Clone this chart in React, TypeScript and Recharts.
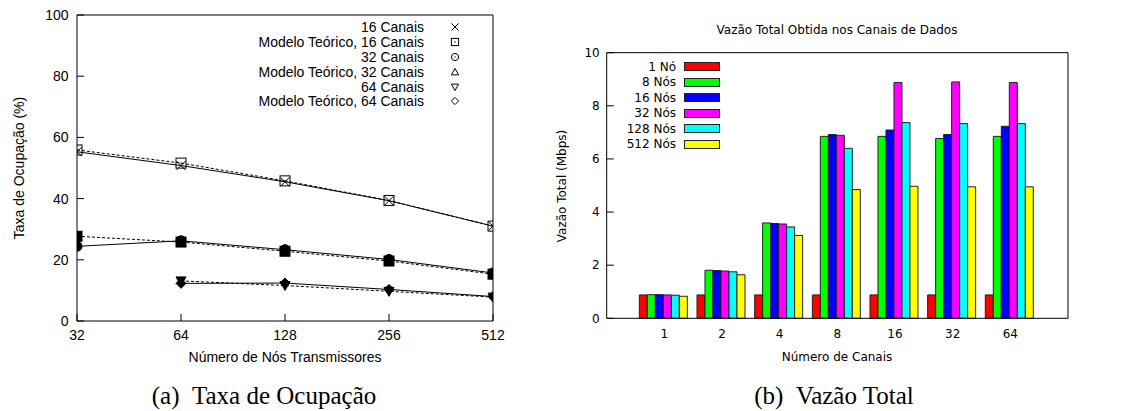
import React from 'react';
import { LineChart, Line, BarChart, Bar, XAxis, YAxis, Legend } from 'recharts';

// (a) occupation rate vs number of transmitting nodes
const nodes = [32, 64, 128, 256, 512];
const sim16 = [55.3, 50.8, 45.5, 39.3, 31.0];
const model16 = [55.9, 51.6, 45.8, 39.4, 31.0];
const sim32 = [24.4, 26.2, 23.3, 20.1, 15.7];
const model32 = [27.7, 25.8, 22.8, 19.6, 15.3];
const sim64 = [null, 12.3, 12.4, 10.3, 8.0];
const model64 = [null, 13.1, 11.6, 9.7, 7.8];
const occTicks = [0, 20, 40, 60, 80, 100];

// (b) total throughput vs number of channels
const channels = ['1', '2', '4', '8', '16', '32', '64'];
const thr1 = [0.88, 0.88, 0.88, 0.88, 0.88, 0.88, 0.88];
const thr8 = [0.89, 1.81, 3.59, 6.85, 6.85, 6.77, 6.85];
const thr16 = [0.89, 1.80, 3.57, 6.92, 7.09, 6.92, 7.23];
const thr32 = [0.88, 1.78, 3.55, 6.89, 8.88, 8.90, 8.88];
const thr128 = [0.87, 1.75, 3.44, 6.40, 7.37, 7.33, 7.33];
const thr512 = [0.83, 1.64, 3.12, 4.85, 4.97, 4.95, 4.95];
const thrTicks = [0, 2, 4, 6, 8, 10];

const sansL = '"Liberation Sans", Arial, Helvetica, sans-serif';
const sansR = '"DejaVu Sans", Verdana, sans-serif';
const serif = '"Liberation Serif", "Times New Roman", serif';

const occData = nodes.map((n, i) => ({
  n,
  s16: sim16[i],
  m16: model16[i],
  s32: sim32[i],
  m32: model32[i],
  s64: sim64[i],
  m64: model64[i],
}));

const thrData = channels.map((ch, i) => ({
  ch,
  b1: thr1[i],
  b8: thr8[i],
  b16: thr16[i],
  b32: thr32[i],
  b128: thr128[i],
  b512: thr512[i],
}));

type Shape = 'x' | 'square' | 'circle' | 'triUp' | 'triDown' | 'diamond';

const occSeries: { key: string; name: string; dash?: string; plot: Shape; filled: boolean; legend: Shape }[] = [
  { key: 's16', name: '16 Canais', plot: 'x', filled: false, legend: 'x' },
  { key: 'm16', name: 'Modelo Teórico, 16 Canais', dash: '3 2', plot: 'square', filled: false, legend: 'square' },
  { key: 's32', name: '32 Canais', plot: 'circle', filled: true, legend: 'circle' },
  { key: 'm32', name: 'Modelo Teórico, 32 Canais', dash: '3 2', plot: 'square', filled: true, legend: 'triUp' },
  { key: 's64', name: '64 Canais', plot: 'diamond', filled: true, legend: 'triDown' },
  { key: 'm64', name: 'Modelo Teórico, 64 Canais', dash: '3 2', plot: 'triDown', filled: true, legend: 'diamond' },
];

const thrSeries = [
  { key: 'b1', name: '1 Nó', color: '#ff0000' },
  { key: 'b8', name: '8 Nós', color: '#00ff00' },
  { key: 'b16', name: '16 Nós', color: '#0000ff' },
  { key: 'b32', name: '32 Nós', color: '#ff00ff' },
  { key: 'b128', name: '128 Nós', color: '#00ffff' },
  { key: 'b512', name: '512 Nós', color: '#ffff00' },
];

function shapeEl(shape: Shape, cx: number, cy: number, s: number, filled: boolean) {
  const fill = filled ? '#000' : 'none';
  const st = { stroke: '#000', strokeWidth: 1 };
  switch (shape) {
    case 'x':
      return (
        <g>
          <line x1={cx - s} y1={cy - s} x2={cx + s} y2={cy + s} {...st} />
          <line x1={cx - s} y1={cy + s} x2={cx + s} y2={cy - s} {...st} />
        </g>
      );
    case 'square':
      return (
        <g>
          <rect x={cx - s} y={cy - s} width={2 * s} height={2 * s} fill={fill} {...st} />
          {!filled && <circle cx={cx} cy={cy} r={0.7} fill="#000" />}
        </g>
      );
    case 'circle':
      return (
        <g>
          <circle cx={cx} cy={cy} r={s} fill={fill} {...st} />
          {!filled && <circle cx={cx} cy={cy} r={0.7} fill="#000" />}
        </g>
      );
    case 'triUp':
      return <polygon points={`${cx},${cy - s} ${cx + s},${cy + s * 0.8} ${cx - s},${cy + s * 0.8}`} fill={fill} {...st} />;
    case 'triDown':
      return <polygon points={`${cx},${cy + s} ${cx + s},${cy - s * 0.8} ${cx - s},${cy - s * 0.8}`} fill={fill} {...st} />;
    default:
      return <polygon points={`${cx},${cy - s} ${cx + s},${cy} ${cx},${cy + s} ${cx - s},${cy}`} fill={fill} {...st} />;
  }
}

const OccLegend = () => (
  <div style={{ fontFamily: sansL, fontSize: 14, color: '#000' }}>
    {occSeries.map((s) => (
      <div key={s.key} style={{ display: 'flex', alignItems: 'center', height: 14.8 }}>
        <span style={{ width: 300, textAlign: 'right', whiteSpace: 'nowrap' }}>{s.name}</span>
        <svg width={10} height={10} style={{ marginLeft: 26 }}>
          {shapeEl(s.legend, 5, 5, 3.6, false)}
        </svg>
      </div>
    ))}
  </div>
);

const ThrLegend = () => (
  <div style={{ fontFamily: sansR, fontSize: 12, color: '#000' }}>
    {thrSeries.map((s) => (
      <div key={s.key} style={{ display: 'flex', alignItems: 'center', height: 15.5 }}>
        <span style={{ width: 120, textAlign: 'right', whiteSpace: 'nowrap' }}>{s.name}</span>
        <div style={{ marginLeft: 8, width: 34, height: 7, background: s.color, border: '1px solid #222' }} />
      </div>
    ))}
  </div>
);

const abs = (left: number, top: number, extra: React.CSSProperties = {}): React.CSSProperties => ({
  position: 'absolute',
  left,
  top,
  whiteSpace: 'nowrap',
  ...extra,
});

const centered = (cx: number, cy: number, font: string, size: number): React.CSSProperties =>
  abs(cx, cy, { fontFamily: font, fontSize: size, transform: 'translate(-50%, -50%)' });

const rotated = (cx: number, cy: number, font: string, size: number): React.CSSProperties =>
  abs(cx, cy, { fontFamily: font, fontSize: size, transform: 'translate(-50%, -50%) rotate(-90deg)' });

export default function App() {
  const tickL = { fill: '#000', fontSize: 14, fontFamily: sansL };
  const tickR = { fill: '#000', fontSize: 12, fontFamily: sansR };
  const axisStroke = { stroke: '#000', strokeWidth: 1 };

  return (
    <div style={{ position: 'absolute', left: 0, top: 0, width: 1126, height: 411, overflow: 'hidden', background: '#fff' }}>
      <div style={abs(0, 0)}>
        <LineChart width={540} height={380} data={occData} margin={{ top: 14, right: 46, bottom: 0, left: 0 }}>
          <XAxis
            dataKey="n"
            type="number"
            scale="log"
            domain={[32, 512]}
            ticks={nodes}
            allowDataOverflow
            height={59}
            tickSize={-7}
            tickMargin={16}
            tick={tickL}
            axisLine={axisStroke}
            tickLine={axisStroke}
          />
          <XAxis
            xAxisId="t"
            orientation="top"
            dataKey="n"
            type="number"
            scale="log"
            domain={[32, 512]}
            ticks={nodes}
            allowDataOverflow
            height={1}
            tickSize={-7}
            tick={false}
            axisLine={axisStroke}
            tickLine={axisStroke}
          />
          <YAxis
            domain={[0, 100]}
            ticks={occTicks}
            width={77}
            tickSize={-7}
            tickMargin={15.5}
            tick={tickL}
            axisLine={axisStroke}
            tickLine={axisStroke}
          />
          <YAxis
            yAxisId="r"
            orientation="right"
            domain={[0, 100]}
            ticks={occTicks}
            allowDataOverflow
            width={1}
            tickSize={-7}
            tick={false}
            axisLine={axisStroke}
            tickLine={axisStroke}
          />
          <Legend
            layout="horizontal"
            verticalAlign="middle"
            align="center"
            content={() => <OccLegend />}
            wrapperStyle={{ left: 124, top: 20, width: 340, height: 'auto' }}
          />
          {occSeries.map((s) => (
            <Line
              key={s.key}
              dataKey={s.key}
              name={s.name}
              type="linear"
              stroke="#000"
              strokeWidth={1}
              strokeDasharray={s.dash}
              isAnimationActive={false}
              connectNulls={false}
              dot={(p: any) => (
                <g key={`${s.key}-${p.index}`}>
                  {p.value == null || p.cx == null ? null : shapeEl(s.plot, p.cx, p.cy, s.plot === 'x' ? 4.5 : 5, s.filled)}
                </g>
              )}
              activeDot={false}
            />
          ))}
        </LineChart>
      </div>

      <div style={abs(540, 0)}>
        <BarChart
          width={600}
          height={380}
          data={thrData}
          margin={{ top: 51.7, right: 71, bottom: 0, left: 0 }}
          barCategoryGap={3.8}
          barGap={0}
        >
          <XAxis
            dataKey="ch"
            padding={{ left: 28.83, right: 28.83 }}
            height={61.7}
            tickSize={0}
            tickMargin={11}
            tick={tickR}
            axisLine={axisStroke}
            tickLine={false}
          />
          <XAxis
            xAxisId="t"
            orientation="top"
            dataKey="ch"
            padding={{ left: 28.83, right: 28.83 }}
            height={1}
            tickSize={-7}
            tick={false}
            axisLine={axisStroke}
            tickLine={axisStroke}
          />
          <YAxis
            domain={[0, 10]}
            ticks={thrTicks}
            width={66.7}
            tickSize={-7}
            tickMargin={14}
            tick={tickR}
            axisLine={axisStroke}
            tickLine={axisStroke}
          />
          <YAxis
            yAxisId="r"
            orientation="right"
            domain={[0, 10]}
            ticks={thrTicks}
            allowDataOverflow
            width={1}
            tickSize={-7}
            tick={false}
            axisLine={axisStroke}
            tickLine={axisStroke}
          />
          <Legend
            layout="horizontal"
            verticalAlign="middle"
            align="center"
            content={() => <ThrLegend />}
            wrapperStyle={{ left: 16, top: 58.9, width: 200, height: 'auto' }}
          />
          {thrSeries.map((s) => (
            <Bar key={s.key} dataKey={s.key} name={s.name} fill={s.color} stroke="#222" strokeWidth={1} isAnimationActive={false} />
          ))}
        </BarChart>
      </div>

      {/* axis titles and captions */}
      <div style={rotated(19, 168, sansL, 14)}>Taxa de Ocupação (%)</div>
      <div style={centered(285, 357, sansL, 14)}>Número de Nós Transmissores</div>
      <div style={centered(837, 30, sansR, 12)}>Vazão Total Obtida nos Canais de Dados</div>
      <div style={rotated(562, 186, sansR, 12)}>Vazão Total (Mbps)</div>
      <div style={centered(837, 357, sansR, 12)}>Número de Canais</div>
      <div style={centered(264, 396, serif, 25)}>(a)&nbsp;&nbsp;Taxa de Ocupação</div>
      <div style={centered(834, 396, serif, 25)}>(b)&nbsp;&nbsp;Vazão Total</div>
    </div>
  );
}
